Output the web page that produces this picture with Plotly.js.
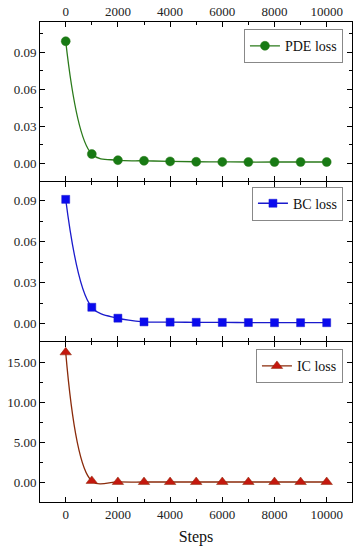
<!DOCTYPE html>
<html><head><meta charset="utf-8">
<script src="https://cdn.plot.ly/plotly-3.0.1.min.js"></script>
<style>html,body{margin:0;padding:0;background:#fff}#plot{width:358px;height:550px}</style>
</head><body><div id="plot"></div>
<script>
const steps = [0,1000,2000,3000,4000,5000,6000,7000,8000,9000,10000];
const pdeLoss = [0.099,0.0075,0.0025,0.002,0.0015,0.0012,0.0011,0.001,0.001,0.001,0.001];
const bcLoss = [0.091,0.012,0.004,0.0013,0.0011,0.001,0.0009,0.0008,0.0007,0.0007,0.0007];
const icLoss = [16.3,0.15,0.02,0.01,0.01,0.01,0.01,0.01,0.01,0.01,0.01];
const xTicks = [0,2000,4000,6000,8000,10000];
const yTicksSmall = [0,0.03,0.06,0.09];
const yTicksIC = [0,5,10,15];

const F = "'Liberation Serif', 'Times New Roman', serif";
const tickFont = {family:F, size:13, color:'#222'};
function tr(y, name, color, lineColor, symbol, size, xa, ya, leg){
  return {x:steps, y:y, name:name, type:'scatter', mode:'lines+markers',
    line:{color:lineColor, width:1.3, shape:'spline', smoothing:1},
    marker:{color:color, symbol:symbol, size:size, line:{color:lineColor,width:0.5}},
    xaxis:xa, yaxis:ya, legend:leg};
}
const data = [
  tr(pdeLoss,'PDE loss','#187a14','#2a7a1a','circle',9,'x','y','legend'),
  tr(bcLoss,'BC loss','#0a0aee','#1a1acc','square',8,'x2','y2','legend2'),
  tr(icLoss,'IC loss','#c4180e','#8a2a0a','triangle-up',10,'x3','y3','legend3')
];
const xr = [-985,10970];
function xax(anchor, showlabels, side){
  return {range:xr, anchor:anchor, side:side, showticklabels:showlabels, tickvals:xTicks,
    ticktext:xTicks.map(String), ticks:'inside', ticklen:5, tickcolor:'#000', tickwidth:1,
    minor:{dtick:1000, tick0:0, ticks:'inside', ticklen:3, tickcolor:'#000'},
    showline:true, linecolor:'#000', linewidth:1, mirror:'ticks', showgrid:false, zeroline:false,
    tickfont:tickFont};
}
function yax(domain, range, tv, anchor, mdt){
  return {domain:domain, range:range, anchor:anchor, tickvals:tv, ticktext:tv.map(v=>v.toFixed(2)),
    ticks:'inside', ticklen:5, tickcolor:'#000', tickwidth:1,
    minor:{dtick:mdt, tick0:0, ticks:'inside', ticklen:3, tickcolor:'#000'},
    showline:true, linecolor:'#000', linewidth:1, mirror:'ticks', showgrid:false, zeroline:false,
    tickfont:tickFont};
}
function leg(y){
  return {x:0.971, xanchor:'right', y:y, yanchor:'top', bgcolor:'#fff', bordercolor:'#888', borderwidth:1,
    font:{family:F, size:14, color:'#111'}, itemwidth:30, tracegroupgap:0};
}
const d = 1/480;
const layout = {
  width:358, height:550, margin:{l:40, r:6, t:22, b:48},
  paper_bgcolor:'#fff', plot_bgcolor:'#fff', showlegend:true,
  xaxis: xax('y', true, 'top'),
  xaxis2: Object.assign(xax('y2', false, 'bottom'), {matches:'x'}),
  xaxis3: Object.assign(xax('y3', true, 'bottom'), {matches:'x', title:{text:'Steps', font:{family:F, size:16, color:'#111'}, standoff:10}}),
  yaxis: yax([2/3+d,1], [-0.0144,0.1146], yTicksSmall, 'x', 0.015),
  yaxis2: yax([1/3+d,2/3], [-0.0127,0.1037], yTicksSmall, 'x2', 0.015),
  yaxis3: yax([0,1/3], [-2.5,17.6], yTicksIC, 'x3', 2.5),
  legend: leg(0.985), legend2: leg(0.657), legend3: leg(0.318)
};
Plotly.newPlot('plot', data, layout, {staticPlot:true, displayModeBar:false});
</script></body></html>
